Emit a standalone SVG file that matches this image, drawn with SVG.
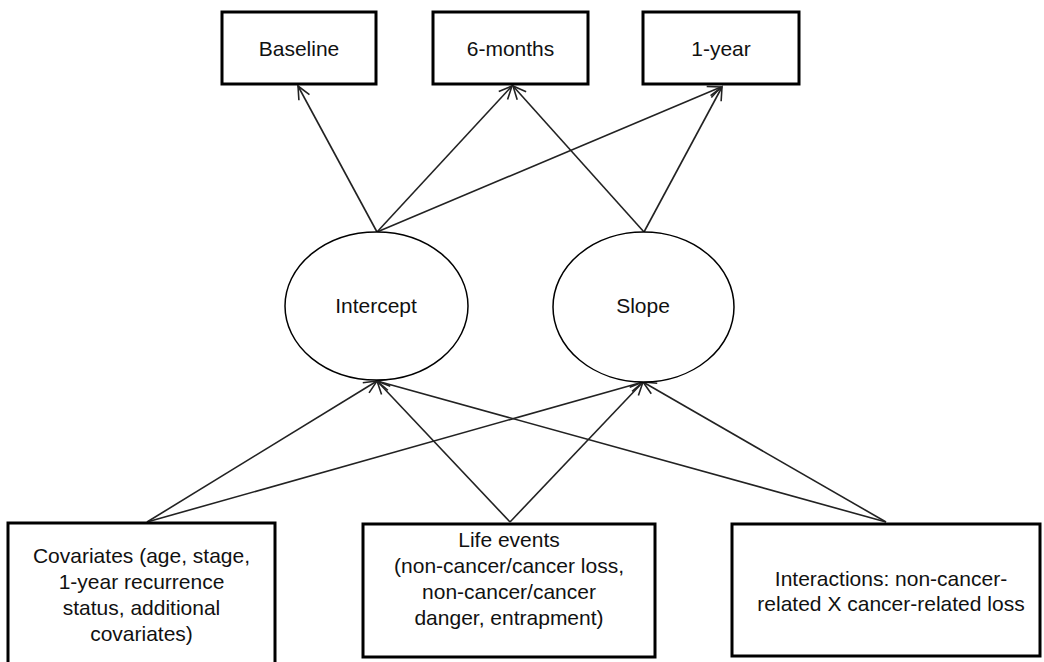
<svg xmlns="http://www.w3.org/2000/svg" width="1044" height="662" viewBox="0 0 1044 662">
<style>
.box{fill:#fff;stroke:#000;stroke-width:3}
.ell{fill:#fff;stroke:#000;stroke-width:1.5}
.t{font-family:"Liberation Sans",Arial,sans-serif;font-size:21px;fill:#111;text-anchor:middle}
.c{fill:none;stroke:#222;stroke-width:1.6;marker-end:url(#a)}
</style>
<defs>
<marker id="a" markerUnits="userSpaceOnUse" markerWidth="30" markerHeight="30" refX="0" refY="0" viewBox="-15 -15 30 30" orient="auto">
<path d="M-13,-6 L0,0 L-13,6" fill="none" stroke="#222" stroke-width="1.6"/>
</marker>
</defs>
<rect width="1044" height="662" fill="#fff"/>
<g id="connectors">
<line class="c" x1="377" y1="232" x2="298" y2="86"/>
<line class="c" x1="377" y1="232" x2="512" y2="86"/>
<line class="c" x1="377" y1="232" x2="721" y2="87"/>
<line class="c" x1="644" y1="232" x2="513" y2="86"/>
<line class="c" x1="644" y1="232" x2="722" y2="87"/>
<line class="c" x1="147" y1="522" x2="377" y2="381"/>
<line class="c" x1="147" y1="522" x2="643" y2="382"/>
<line class="c" x1="510" y1="522" x2="377" y2="381"/>
<line class="c" x1="510" y1="522" x2="643" y2="382"/>
<line class="c" x1="886" y1="522" x2="377" y2="381"/>
<line class="c" x1="886" y1="522" x2="643" y2="382"/>
</g>
<g id="baseline">
<rect class="box" x="222" y="12" width="154" height="72"/>
<text class="t" x="299" y="56">Baseline</text>
</g>
<g id="six-months">
<rect class="box" x="433" y="12" width="155" height="72"/>
<text class="t" x="510.5" y="56">6-months</text>
</g>
<g id="one-year">
<rect class="box" x="643" y="12" width="156" height="72"/>
<text class="t" x="721" y="56">1-year</text>
</g>
<g id="intercept">
<ellipse class="ell" cx="376.5" cy="306" rx="91.5" ry="74"/>
<text class="t" x="376" y="313">Intercept</text>
</g>
<g id="slope">
<ellipse class="ell" cx="643.5" cy="307" rx="90.5" ry="75"/>
<text class="t" x="643" y="313">Slope</text>
</g>
<g id="covariates">
<rect class="box" x="8" y="523" width="267" height="143"/>
<text class="t" x="141.5" y="563">Covariates (age, stage,</text>
<text class="t" x="141.5" y="589">1-year recurrence</text>
<text class="t" x="141.5" y="615">status, additional</text>
<text class="t" x="141.5" y="641">covariates)</text>
</g>
<g id="life-events">
<rect class="box" x="363" y="524" width="292" height="133"/>
<text class="t" x="509" y="547">Life events</text>
<text class="t" x="509" y="573">(non-cancer/cancer loss,</text>
<text class="t" x="509" y="599">non-cancer/cancer</text>
<text class="t" x="509" y="625">danger, entrapment)</text>
</g>
<g id="interactions">
<rect class="box" x="732" y="524" width="308" height="132"/>
<text class="t" x="891" y="586">Interactions: non-cancer-</text>
<text class="t" x="891" y="611">related X cancer-related loss</text>
</g>
</svg>
